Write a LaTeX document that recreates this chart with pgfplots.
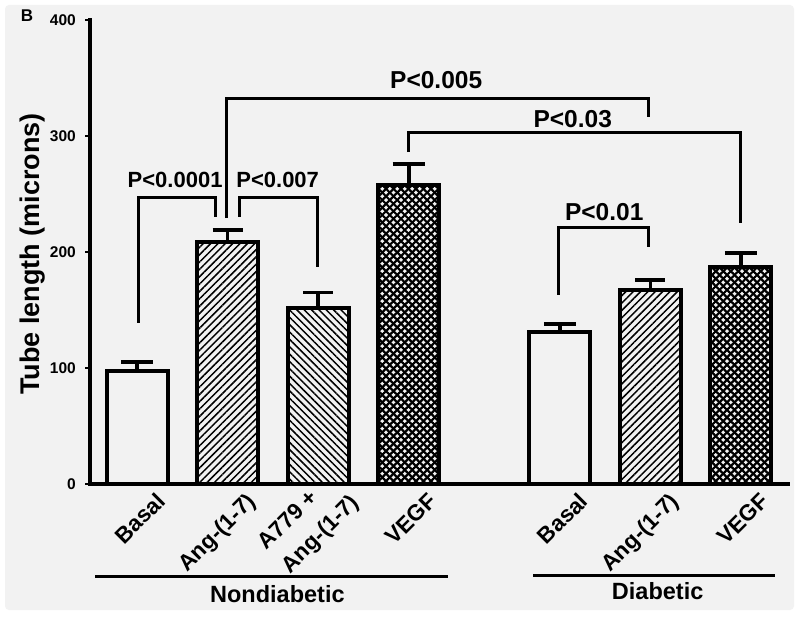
\documentclass[border=0pt]{standalone}
\usepackage{pgfplots}
\pgfplotsset{compat=1.18}
\usetikzlibrary{patterns.meta}
\usepackage{fontspec}
\setmainfont{Liberation Sans}
\definecolor{bg}{RGB}{242,242,242}
\newcommand{\fs}[1]{\bfseries\fontsize{#1}{#1}\selectfont}
\tikzdeclarepattern{
  name=xhatch,
  type=uncolored,
  bottom left={(-0.3pt,-0.3pt)},
  top right={(5.6pt,5.6pt)},
  tile size={(5.3pt,5.3pt)},
  tile transformation={rotate=45},
  code={
    \draw[line width=2.1pt] (-0.3pt,2.65pt) -- (5.6pt,2.65pt) (2.65pt,-0.3pt) -- (2.65pt,5.6pt);
  }
}
\begin{document}
\begin{tikzpicture}
\useasboundingbox (0,0) rectangle (800pt,616pt);
\fill[white] (0,0) rectangle (800pt,616pt);
\fill[bg, rounded corners=4pt] (5pt,6pt) rectangle (794pt,611pt);
\begin{axis}[
  at={(90pt,132pt)}, anchor=south west,
  scale only axis, width=698pt, height=464pt,
  xmin=0.48, xmax=8.19, ymin=0, ymax=400,
  axis x line=bottom, axis y line=left,
  axis line style={line width=4pt, -, line cap=rect},
  axis on top,
  clip=false,
  ytick={0,100,200,300,400},
  yticklabels={0,100,200,300,400},
  ytick style={line width=2.5pt, black},
  major tick length=5pt, tick align=outside,
  yticklabel style={font=\fs{15.5}, inner sep=0pt, xshift=-9pt},
  /pgf/number format/assume math mode=true,
  xtick={1,2,4,5.67,6.67,7.67},
  xticklabels={Basal,Ang-(1-7),VEGF,Basal,Ang-(1-7),VEGF},
  x tick style={draw=none},
  xticklabel style={xshift=18pt, yshift=-2pt, rotate=45, anchor=north east, inner sep=0pt, font=\fs{22.5}},
  every axis plot/.append style={ybar, bar shift=0pt, bar width=61pt, draw=black, line width=4pt},
]
% Basal
\addplot[fill=bg,
  error bars/.cd, y dir=plus, y explicit, error mark=|,
  error bar style={line width=3.7pt, black},
  error mark options={line width=3.7pt, mark size=16pt, black}]
  coordinates {(1,97) +- (0,8) (5.67,131) +- (0,7)};
% Ang-(1-7)
\addplot[pattern={Lines[angle=45,distance=5.2pt,line width=1.5pt]}, pattern color=black,
  error bars/.cd, y dir=plus, y explicit, error mark=|,
  error bar style={line width=3.7pt, black},
  error mark options={line width=3.7pt, mark size=15pt, black}]
  coordinates {(2,209) +- (0,10) (6.67,167) +- (0,9)};
% A779 + Ang-(1-7)
\addplot[pattern={Lines[angle=-45,distance=5.2pt,line width=1.5pt]}, pattern color=black,
  error bars/.cd, y dir=plus, y explicit, error mark=|,
  error bar style={line width=3.7pt, black},
  error mark options={line width=3.7pt, mark size=15pt, black}]
  coordinates {(3,152) +- (0,13)};
% VEGF
\addplot[pattern=xhatch, pattern color=black,
  error bars/.cd, y dir=plus, y explicit, error mark=|,
  error bar style={line width=3.7pt, black},
  error mark options={line width=3.7pt, mark size=16pt, black}]
  coordinates {(4,258) +- (0,18) (7.67,187) +- (0,12)};

% significance brackets
\draw[line width=3pt] (axis cs:1.02,138.8) -- (axis cs:1.02,247.4) -- (axis cs:1.87,247.4) -- (axis cs:1.87,230.2);
\draw[line width=3pt] (axis cs:2.13,230.2) -- (axis cs:2.13,247.4) -- (axis cs:2.99,247.4) -- (axis cs:2.99,187);
\draw[line width=3pt] (axis cs:1.99,229.3) -- (axis cs:1.99,332.6) -- (axis cs:6.65,332.6) -- (axis cs:6.65,316.4);
\draw[line width=3pt] (axis cs:4.0,286.2) -- (axis cs:4.0,302.6) -- (axis cs:7.66,302.6) -- (axis cs:7.66,225);
\draw[line width=3pt] (axis cs:5.66,163) -- (axis cs:5.66,220.7) -- (axis cs:6.65,220.7) -- (axis cs:6.65,204.3);
\node[font=\fs{22}, inner sep=0pt] at (axis cs:1.42,262.5) {P<0.0001};
\node[font=\fs{22}, inner sep=0pt] at (axis cs:2.553,262.5) {P<0.007};
\node[font=\fs{24.5}, inner sep=0pt] at (axis cs:4.304,348.3) {P<0.005};
\node[font=\fs{24.5}, inner sep=0pt] at (axis cs:5.812,314.7) {P<0.03};
\node[font=\fs{24.5}, inner sep=0pt] at (axis cs:6.16,234) {P<0.01};

% two-line tick label
\node[rotate=45, anchor=north east, align=left, inner sep=0pt, font=\bfseries\fontsize{22.5}{33}\selectfont]
  at (axis cs:3.083,12.5) {A779 +\\Ang-(1-7)};

% group lines
\draw[line width=3pt] (axis cs:0.536,-80) -- (axis cs:4.436,-80);
\draw[line width=3pt] (axis cs:5.376,-79) -- (axis cs:8.05,-79);
\node[font=\fs{23.5}, inner sep=0pt] at (axis cs:2.55,-94.8) {Nondiabetic};
\node[font=\fs{23.5}, inner sep=0pt] at (axis cs:6.75,-92.7) {Diabetic};

% y label and panel letter
\node[rotate=90, font=\fs{27}, inner sep=0pt] at (axis description cs:-0.0824,0.496) {Tube length (microns)};
\node[font=\fs{17}, inner sep=0pt] at (axis description cs:-0.0903,1.0086) {B};
\end{axis}
\end{tikzpicture}
\end{document}
